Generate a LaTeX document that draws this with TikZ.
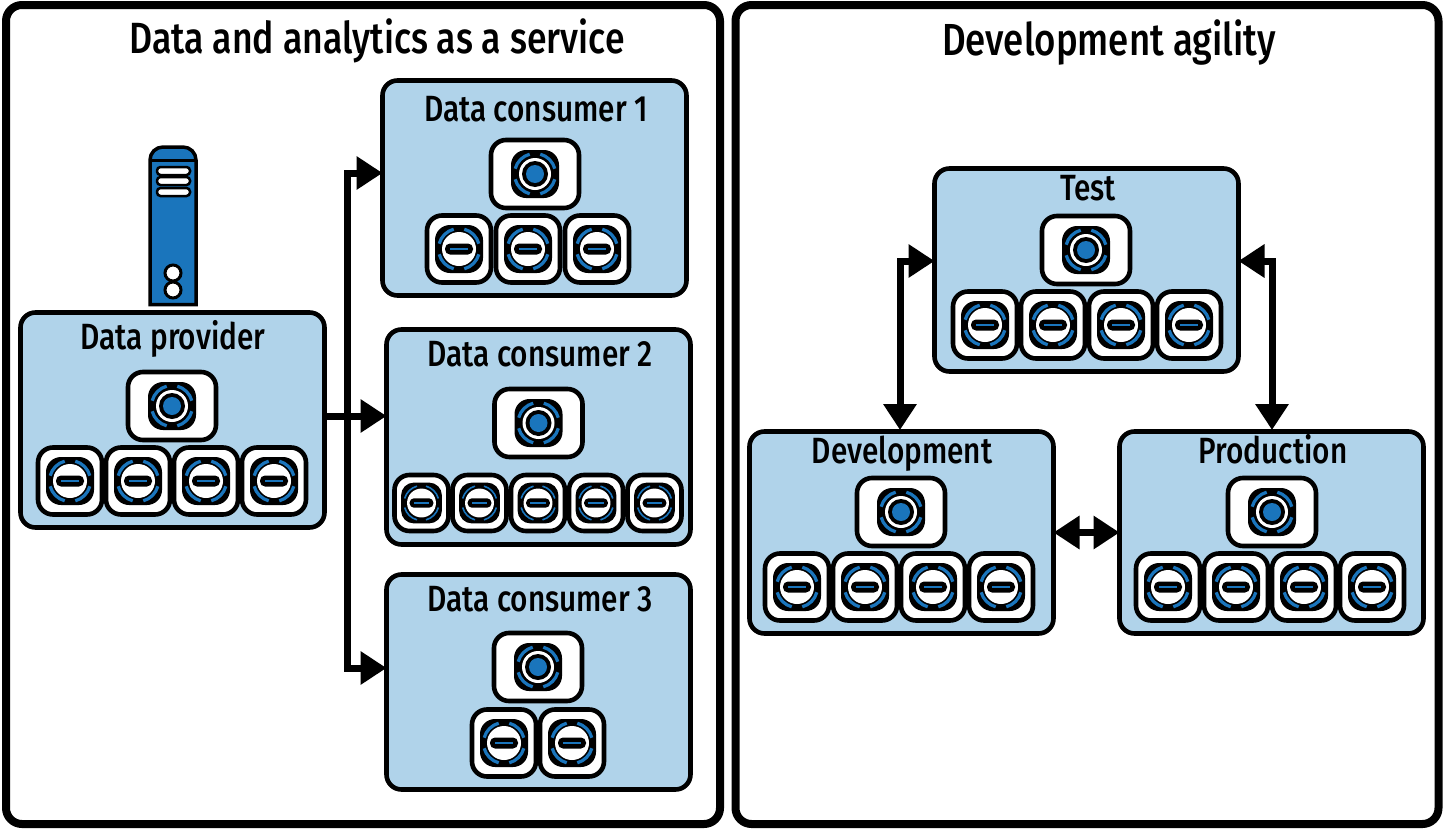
\documentclass[tikz,border=0pt]{standalone}
\usepackage{fontspec}
\setmainfont{Fira Sans Medium}[FakeStretch=0.815]
\usetikzlibrary{arrows.meta}
\definecolor{lblue}{HTML}{B0D3EA}
\definecolor{mblue}{HTML}{1A75BC}
\tikzset{
  x=1pt,y=-1pt,
  panel/.style={draw=black,line width=8pt,fill=white,rounded corners=16pt,inner sep=0pt,outer sep=0pt},
  cluster/.style={draw=black,line width=4.6pt,fill=lblue,rounded corners=15pt,inner sep=0pt,outer sep=0pt},
  srvbox/.style={draw=black,line width=4.6pt,fill=white,rounded corners=15pt,inner sep=0pt,outer sep=0pt},
  title/.style={font=\fontsize{43.7}{46}\selectfont,inner sep=0pt,anchor=base},
  titleb/.style={font=\fontsize{44.9}{47}\selectfont,inner sep=0pt,anchor=base},
  clabel/.style={font=\fontsize{36.5}{40}\selectfont,inner sep=0pt,anchor=base},
  conn/.style={draw=black,line width=7pt,miter limit=10},
  tip/.style={-{Triangle[length=26pt,width=32pt]}},
  tips/.style={{Triangle[length=26pt,width=32pt]}-{Triangle[length=26pt,width=32pt]}},
}
% #1 arc width
\newcommand{\sarcs}[1]{%
  \foreach \a in {15,105,195,285}{\draw[mblue,line width=#1] (\a:20.5pt) arc[start angle=\a,end angle=\a+60,radius=20.5pt];}%
}
\newcommand{\mastersrv}[3]{%
  \node[srvbox,minimum width=88pt,minimum height=68pt] (#1) at (#2,#3) {};
  \begin{scope}[shift={(#2,#3)}]
  \fill[black,rounded corners=15pt] (-24,-24) rectangle (24,24);
  \sarcs{3.2pt}
  \fill[white] (0,0) circle[radius=16pt];
  \fill[black] (0,0) circle[radius=13pt];
  \fill[mblue] (0,0) circle[radius=9pt];
  \end{scope}
}
% name, x, y, box width, box height, scale, arc width
\newcommand{\workersrv}[7]{%
  \node[srvbox,minimum width=#4 pt,minimum height=#5 pt] (#1) at (#2,#3) {};
  \begin{scope}[shift={(#2,#3)},scale=#6]
  \fill[black,rounded corners=15pt*#6] (-24,-24) rectangle (24,24);
  \sarcs{#7}
  \fill[white] (0,0) circle[radius=17pt];
  \fill[black,rounded corners=5pt*#6] (-14,-5.5) rectangle (14,5.5);
  \fill[mblue] (-9,-1) rectangle (9,1);
  \end{scope}
}
\newcommand{\wN}[3]{\workersrv{#1}{#2}{#3}{64}{67}{1}{3.2pt}}
\newcommand{\wS}[3]{\workersrv{#1}{#2}{#3}{54}{56}{0.85}{1.6pt}}
\begin{document}
\begin{tikzpicture}
\useasboundingbox (0,0) rectangle (1444,830);
\fill[white] (0,0) rectangle (1444,830);
% panels
\node[panel,minimum width=714pt,minimum height=819pt] (pl) at (363,414.5) {};
\node[panel,minimum width=703pt,minimum height=819pt] (pr) at (1087,414.5) {};
\node[title] (tl) at (377,53) {Data and analytics as a service};
\node[titleb] (tr) at (1109,55) {Development agility};
% clusters
\node[cluster,minimum width=304pt,minimum height=215pt] (prov) at (172.5,420) {};
\node[cluster,minimum width=304pt,minimum height=215pt] (c1) at (534.5,188) {};
\node[cluster,minimum width=304pt,minimum height=215pt] (c2) at (538.5,437) {};
\node[cluster,minimum width=304pt,minimum height=215pt] (c3) at (538.5,682) {};
\node[cluster,minimum width=304pt,minimum height=203pt] (test) at (1086.5,270) {};
\node[cluster,minimum width=304pt,minimum height=202pt] (dev) at (901.5,532.5) {};
\node[cluster,minimum width=304pt,minimum height=202pt] (prod) at (1271.5,532.5) {};
\coordinate (j) at (347,416);
\coordinate (p1) at (c1.west |- 0,173);
\coordinate (p2) at (c2.west |- 0,416);
\coordinate (p3) at (c3.west |- 0,668);
\coordinate (pe) at (prov.east |- 0,416);
\draw[conn,tip] (j) |- (p1);
\draw[conn,tip] (j) |- (p3);
\draw[conn,tip] (pe) -- (p2);
\coordinate (tl1) at (test.west |- 0,261);
\coordinate (tr1) at (test.east |- 0,261);
\coordinate (dt) at (900,430);
\coordinate (pt) at (1272,430);
\draw[conn,tips] (dt) |- (tl1);
\draw[conn,tips] (pt) |- (tr1);
\draw[conn,tips] (dev.east) -- (prod.west);
% labels
\node[clabel] (lprov) at (173,349) {Data provider};
\node[clabel] (lc1) at (536,121) {Data consumer 1};
\node[clabel] (lc2) at (540,366) {Data consumer 2};
\node[clabel] (lc3) at (540,611) {Data consumer 3};
\node[clabel] (ltest) at (1088,200) {Test};
\node[clabel] (ldev) at (902,463) {Development};
\node[clabel] (lprod) at (1273,463) {Production};
% server
\draw[black,line width=3.5pt,fill=mblue] (150,304.5) -- (150,160) arc[start angle=180,end angle=90,radius=13pt] -- (183,147) arc[start angle=90,end angle=0,radius=13pt] -- (196,304.5) -- cycle;
\draw[black,line width=3pt] (150,160) -- (196,160);
\foreach \yy in {171,181,192}{\draw[black,line width=2.5pt,fill=white,rounded corners=3.5pt] (157,\yy-4) rectangle (190,\yy+4);}
\draw[black,line width=3pt,fill=white] (173,273) circle[radius=8pt];
\draw[black,line width=3pt,fill=white] (173,290) circle[radius=8pt];
% provider
\mastersrv{pm}{172}{406}
\wN{pw1}{70}{481}\wN{pw2}{138}{481}\wN{pw3}{206}{481}\wN{pw4}{274}{481}
% consumer 1
\mastersrv{c1m}{535}{174}
\wN{c1w1}{459}{249}\wN{c1w2}{528}{249}\wN{c1w3}{597}{249}
% consumer 2
\mastersrv{c2m}{538.5}{423}
\wS{c2w1}{421.5}{503}\wS{c2w2}{479.5}{503}\wS{c2w3}{538}{503}\wS{c2w4}{596}{503}\wS{c2w5}{654.5}{503}
% consumer 3
\mastersrv{c3m}{538}{667}
\wN{c3w1}{504}{743}\wN{c3w2}{572}{743}
% test
\mastersrv{tm}{1086}{250}
\wN{tw1}{985}{325}\wN{tw2}{1053}{325}\wN{tw3}{1121}{325}\wN{tw4}{1189}{325}
% development
\mastersrv{dm}{901}{512}
\wN{dw1}{797}{587}\wN{dw2}{865}{587}\wN{dw3}{933}{587}\wN{dw4}{1001}{587}
% production
\mastersrv{rm}{1272}{512}
\wN{rw1}{1168}{587}\wN{rw2}{1236}{587}\wN{rw3}{1304}{587}\wN{rw4}{1372}{587}
\end{tikzpicture}
\end{document}
